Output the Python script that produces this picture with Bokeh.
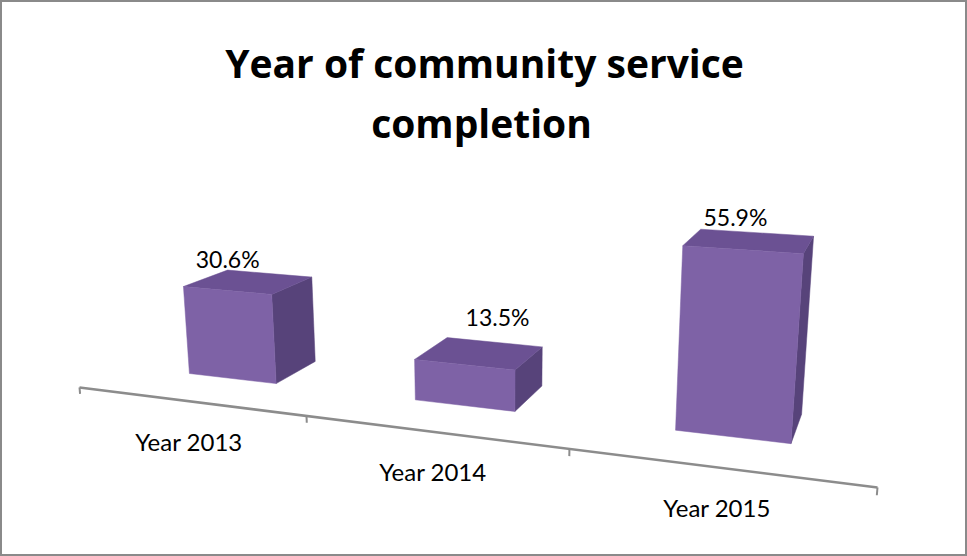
import numpy as np
from bokeh.plotting import figure
from bokeh.models import Range1d
from bokeh.embed import file_html
from bokeh.resources import INLINE
from bokeh.core.properties import value

# ---- data ----
categories = ["Year 2013", "Year 2014", "Year 2015"]
shares = [30.6, 13.5, 55.9]
share_labels = ["30.6%", "13.5%", "55.9%"]
title_lines = ["Year of community service", "completion"]

# ---- layout / style ----
W, H = 967, 556
FONT = "Lato"
TITLE_FONT = "Open Sans"
FRONT, TOP, SIDE = "#7E62A6", "#6B5193", "#57437A"
AXIS_COLOR = "#8C8C8C"
BAR_HALF = 0.2            # half bar width in category units
DEPTH = (1.0, 2.07)       # bar depth span (world units)
label_nudge_x = [-21, 18, -14]
label_nudge_y = [-23, -36, -24]

# projective camera: world (u along category axis, d depth, h height in %) -> screen px
WD, WH = 0.0581, -0.000639
CAM = np.array([
    [206.1, 950 * WD, 500 * WH, 79.0],
    [0.07, 0.0, 4900 * WH, 387.0],
    [-0.0683, WD, WH, 1.0],
])


def proj(u, d, h):
    v = CAM @ np.array([u, d, h, 1.0])
    return v[0] / v[2], v[1] / v[2]


def face(pts):
    xy = [proj(*p) for p in pts]
    return [q[0] for q in xy], [q[1] for q in xy]


p = figure(width=W, height=H, output_backend="svg", toolbar_location=None,
           x_range=Range1d(0, W), y_range=Range1d(H, 0), min_border=0,
           background_fill_color="white", border_fill_color="white")
p.axis.visible = False
p.grid.visible = False
p.outline_line_color = "#8A8A8A"
p.outline_line_width = 3

# axis line + ticks
n = len(categories)
ax_x, ax_y = face([(0, 0, 0), (n, 0, 0)])
p.line(ax_x, ax_y, line_color=AXIS_COLOR, line_width=2.5)
tick_xs, tick_ys = [], []
for i in range(n + 1):
    tx, ty = face([(i, 0, 0), (i, 0, -2.2)])
    tick_xs.append(tx)
    tick_ys.append(ty)
p.multi_line(tick_xs, tick_ys, line_color=AXIS_COLOR, line_width=2)

# bars
for faces_name, color in (("side", SIDE), ("top", TOP), ("front", FRONT)):
    xs, ys = [], []
    for i, v in enumerate(shares):
        u0, u1 = i + 0.5 - BAR_HALF, i + 0.5 + BAR_HALF
        d0, d1 = DEPTH
        if faces_name == "front":
            pts = [(u0, d0, 0), (u1, d0, 0), (u1, d0, v), (u0, d0, v)]
        elif faces_name == "top":
            pts = [(u0, d0, v), (u1, d0, v), (u1, d1, v), (u0, d1, v)]
        else:
            pts = [(u1, d0, 0), (u1, d1, 0), (u1, d1, v), (u1, d0, v)]
        fx, fy = face(pts)
        xs.append(fx)
        ys.append(fy)
    p.patches(xs, ys, fill_color=color, line_color=color, line_width=0.5)

# value labels
lx, ly = [], []
for i, v in enumerate(shares):
    x, y = proj(i + 0.5, sum(DEPTH) / 2, v)
    lx.append(x + label_nudge_x[i])
    ly.append(y + label_nudge_y[i])
p.text(lx, ly, text=share_labels, text_font=value(FONT), text_font_size="23px",
       text_align="center", text_baseline="middle", text_color="black")

# category labels
cx, cy = [], []
for i in range(n):
    x, y = proj(i + 0.5, 0, 0)
    cx.append(x)
    cy.append(y)
p.text(cx, cy, text=categories, text_font=value(FONT), text_font_size="24px",
       text_align="center", text_baseline="middle", text_color="black", y_offset=40)

# title
p.text([484, 481], [62, 122], text=title_lines, text_font=value(TITLE_FONT),
       text_font_size="39px", text_font_style="bold", text_align="center",
       text_baseline="alphabetic", text_color="black")

open("out.html", "w").write(file_html(p, INLINE))
